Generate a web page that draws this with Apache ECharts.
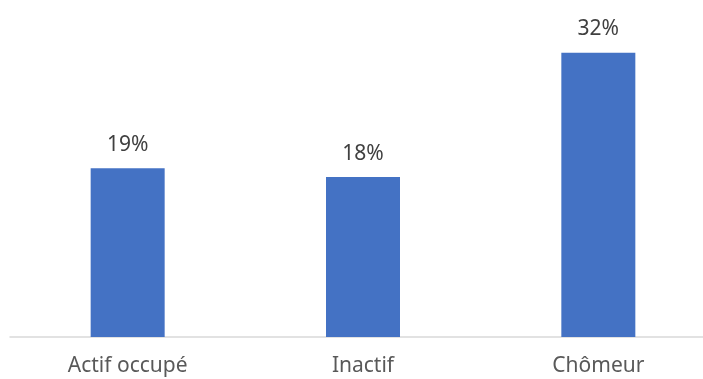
<!DOCTYPE html>
<html>
<head>
<meta charset="utf-8">
<script src="https://cdn.jsdelivr.net/npm/echarts@6/dist/echarts.min.js"></script>
<style>html,body{margin:0;padding:0;background:#fff;overflow:hidden;width:703px;height:379px}#c{width:716px;height:379px}</style>
</head>
<body>
<div id="c"></div>
<script>
var categories = ['Actif occupé', 'Inactif', 'Chômeur'];
var values = [19, 18, 32];

var chart = echarts.init(document.getElementById('c'), null, {renderer: 'canvas'});
chart.setOption({
  animation: false,
  backgroundColor: '#ffffff',
  grid: {left: 10, top: 26, right: 0, bottom: 42, containLabel: false},
  xAxis: {
    type: 'category',
    data: categories,
    axisLine: {show: true, lineStyle: {color: '#d9d9d9', width: 1.5}},
    axisTick: {show: false},
    axisLabel: {color: '#595959', fontFamily: 'Noto Sans', fontSize: 21, margin: 19}
  },
  yAxis: {
    type: 'value', min: 0, max: 35,
    show: false,
    splitLine: {show: false}
  },
  series: [{
    type: 'bar',
    data: values,
    barWidth: 74,
    itemStyle: {color: '#4472c4'},
    label: {
      show: true, position: 'top', distance: 13,
      formatter: function (p) { return p.value + '%'; },
      color: '#404040', fontFamily: 'Noto Sans', fontSize: 21
    }
  }]
});
</script>
</body>
</html>
